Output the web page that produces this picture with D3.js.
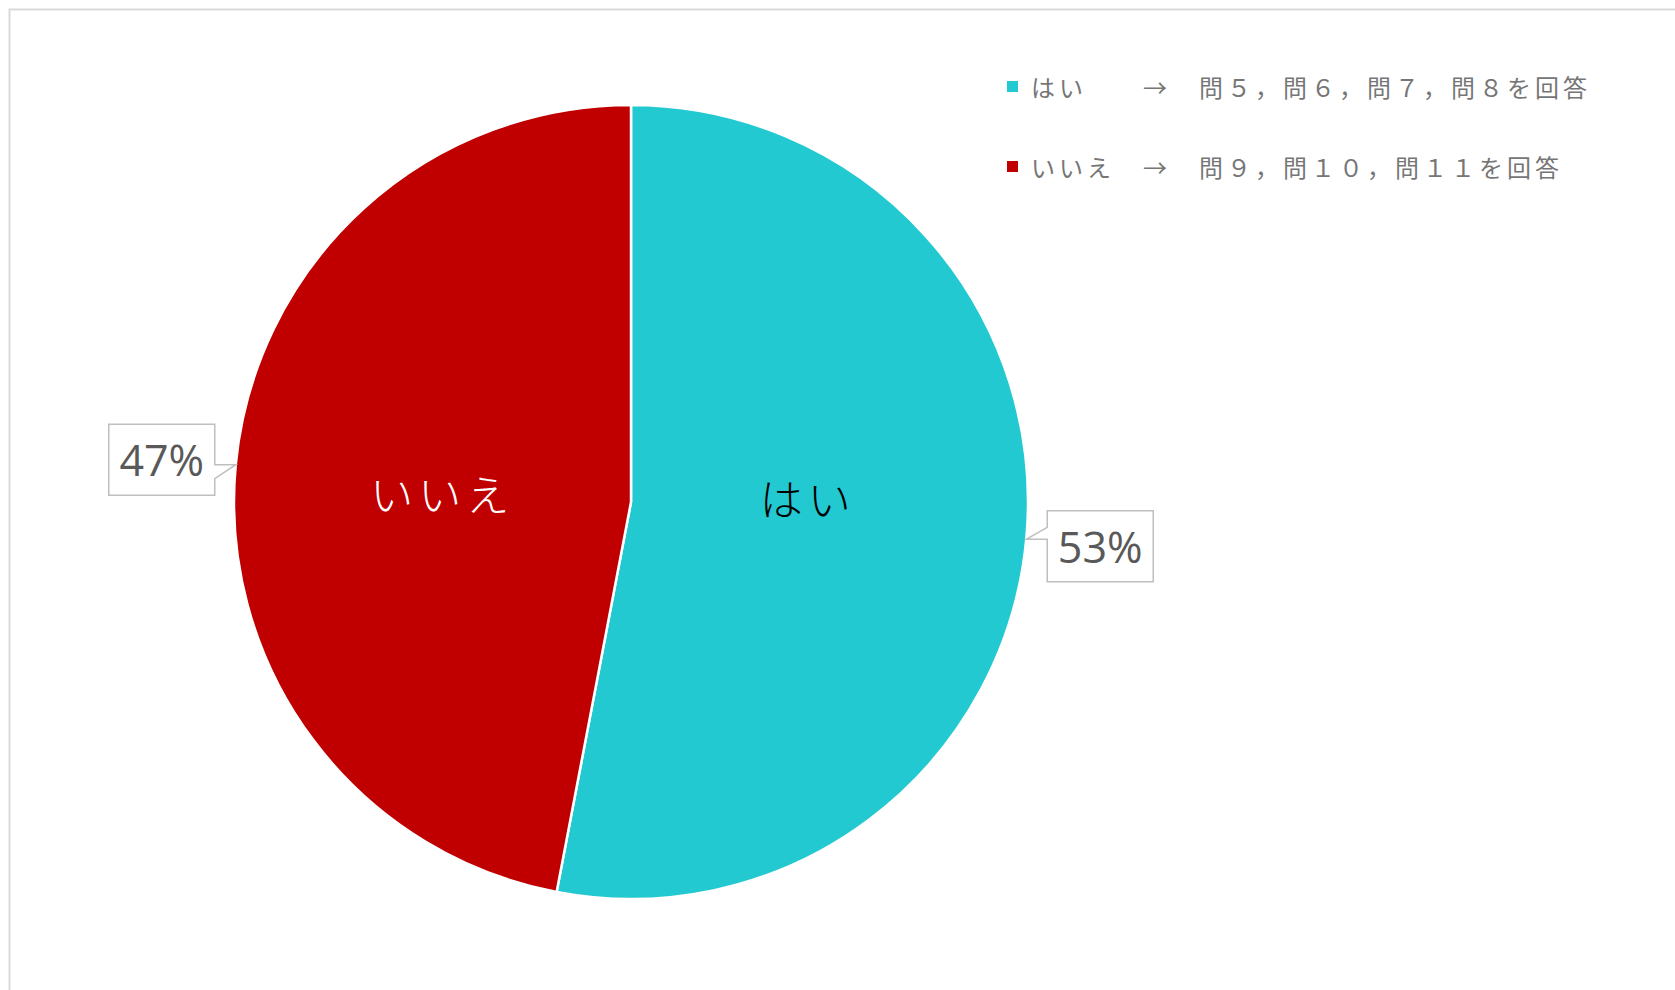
<!DOCTYPE html>
<html>
<head>
    <meta charset="utf-8" />
    <script src="https://d3js.org/d3.v7.min.js"></script>
    <style>
        body { margin: 0; background: #ffffff; }
    </style>
</head>
<body>
    <svg id="pieChart" width="1675" height="990"></svg>

    <script>
        // chart data
        var categories = ["はい", "いいえ"];
        var values = [53, 47];
        var percentLabels = ["53%", "47%"];
        var legendTexts = [
            "はい　　→　問５，問６，問７，問８を回答",
            "いいえ　→　問９，問１０，問１１を回答"
        ];

        var width = 1675;
        var height = 990;
        var cx = 631, cy = 502, radius = 397;

        var svg = d3.select("#pieChart");

        // outer frame (only left and top edges visible)
        svg.append("path")
            .attr("d", "M9.5," + height + " L9.5,9.5 L" + width + ",9.5")
            .attr("fill", "none")
            .attr("stroke", "#d9d9d9")
            .attr("stroke-width", 2);

        var colour = d3.scaleOrdinal()
            .domain(categories)
            .range(["#23c9d0", "#c00000"]);

        var pie = d3.pie().sort(null).value(d => d.value);
        var pieData = pie(categories.map((c, i) => ({ cat: c, value: values[i], pct: percentLabels[i] })));

        var arc = d3.arc().innerRadius(0).outerRadius(radius);

        var g = svg.append("g").attr("transform", "translate(" + cx + "," + cy + ")");

        // slices
        g.selectAll(".slice")
            .data(pieData)
            .enter().append("path")
            .attr("d", arc)
            .attr("fill", d => colour(d.data.cat))
            .attr("stroke", "#ffffff")
            .attr("stroke-width", 2.5);

        // category names inside the slices (nudged like the excel layout)
        var innerArc = d3.arc().innerRadius(radius * 0.48).outerRadius(radius * 0.48);
        var nudge = [[-13, -23], [1, 8]];
        g.selectAll(".catLabel")
            .data(pieData)
            .enter().append("text")
            .attr("x", (d, i) => innerArc.centroid(d)[0] + nudge[i][0])
            .attr("y", (d, i) => innerArc.centroid(d)[1] + nudge[i][1])
            .attr("text-anchor", "middle")
            .attr("dominant-baseline", "central")
            .attr("font-family", "'Noto Sans CJK JP', sans-serif")
            .attr("font-weight", 300)
            .attr("font-size", 43)
            .attr("letter-spacing", 5)
            .attr("fill", (d, i) => i === 0 ? "#000000" : "#ffffff")
            .text(d => d.data.cat);

        // percentage callouts
        var boxW = 106, boxH = 71, gap = 21;
        pieData.forEach(function (d) {
            var mid = (d.startAngle + d.endAngle) / 2;
            var tx = radius * Math.sin(mid);
            var ty = -radius * Math.cos(mid);
            var right = tx > 0;
            var bx = right ? tx + gap : tx - gap - boxW;
            var by = ty - boxH / 2 + (right ? 7 : -5);
            var x0 = bx, x1 = bx + boxW, y0 = by, y1 = by + boxH;
            var p;
            if (right) {
                p = "M" + x0 + "," + y0 + " L" + x1 + "," + y0 + " L" + x1 + "," + y1 + " L" + x0 + "," + y1 +
                    " L" + x0 + "," + (ty) + " L" + tx + "," + ty + " L" + x0 + "," + (ty - 12) + " Z";
            } else {
                p = "M" + x0 + "," + y0 + " L" + x1 + "," + y0 + " L" + x1 + "," + ty + " L" + tx + "," + ty +
                    " L" + x1 + "," + (ty + 14) + " L" + x1 + "," + y1 + " L" + x0 + "," + y1 + " Z";
            }
            g.append("path")
                .attr("d", p)
                .attr("fill", "#ffffff")
                .attr("stroke", "#bfbfbf")
                .attr("stroke-width", 1.5);
            g.append("text")
                .attr("x", bx + boxW / 2)
                .attr("y", by + boxH / 2)
                .attr("text-anchor", "middle")
                .attr("dominant-baseline", "central")
                .attr("font-family", "'Open Sans', sans-serif")
                .attr("font-size", 43)
                .attr("fill", "#595959")
                .text(d.data.pct);
        });

        // legend
        var legend = svg.append("g").attr("transform", "translate(1007,86)");
        var legendRows = legend.selectAll(".row")
            .data(categories)
            .enter().append("g")
            .attr("transform", (d, i) => "translate(0," + (i * 80) + ")");

        legendRows.append("rect")
            .attr("x", 0)
            .attr("y", -5)
            .attr("width", 11)
            .attr("height", 11)
            .attr("fill", d => colour(d));

        legendRows.append("text")
            .attr("x", 24)
            .attr("y", 0)
            .attr("dominant-baseline", "central")
            .attr("font-family", "'Noto Sans CJK JP', sans-serif")
            .attr("font-size", 24)
            .attr("letter-spacing", 4)
            .attr("fill", "#767676")
            .text((d, i) => legendTexts[i]);
    </script>
</body>
</html>
